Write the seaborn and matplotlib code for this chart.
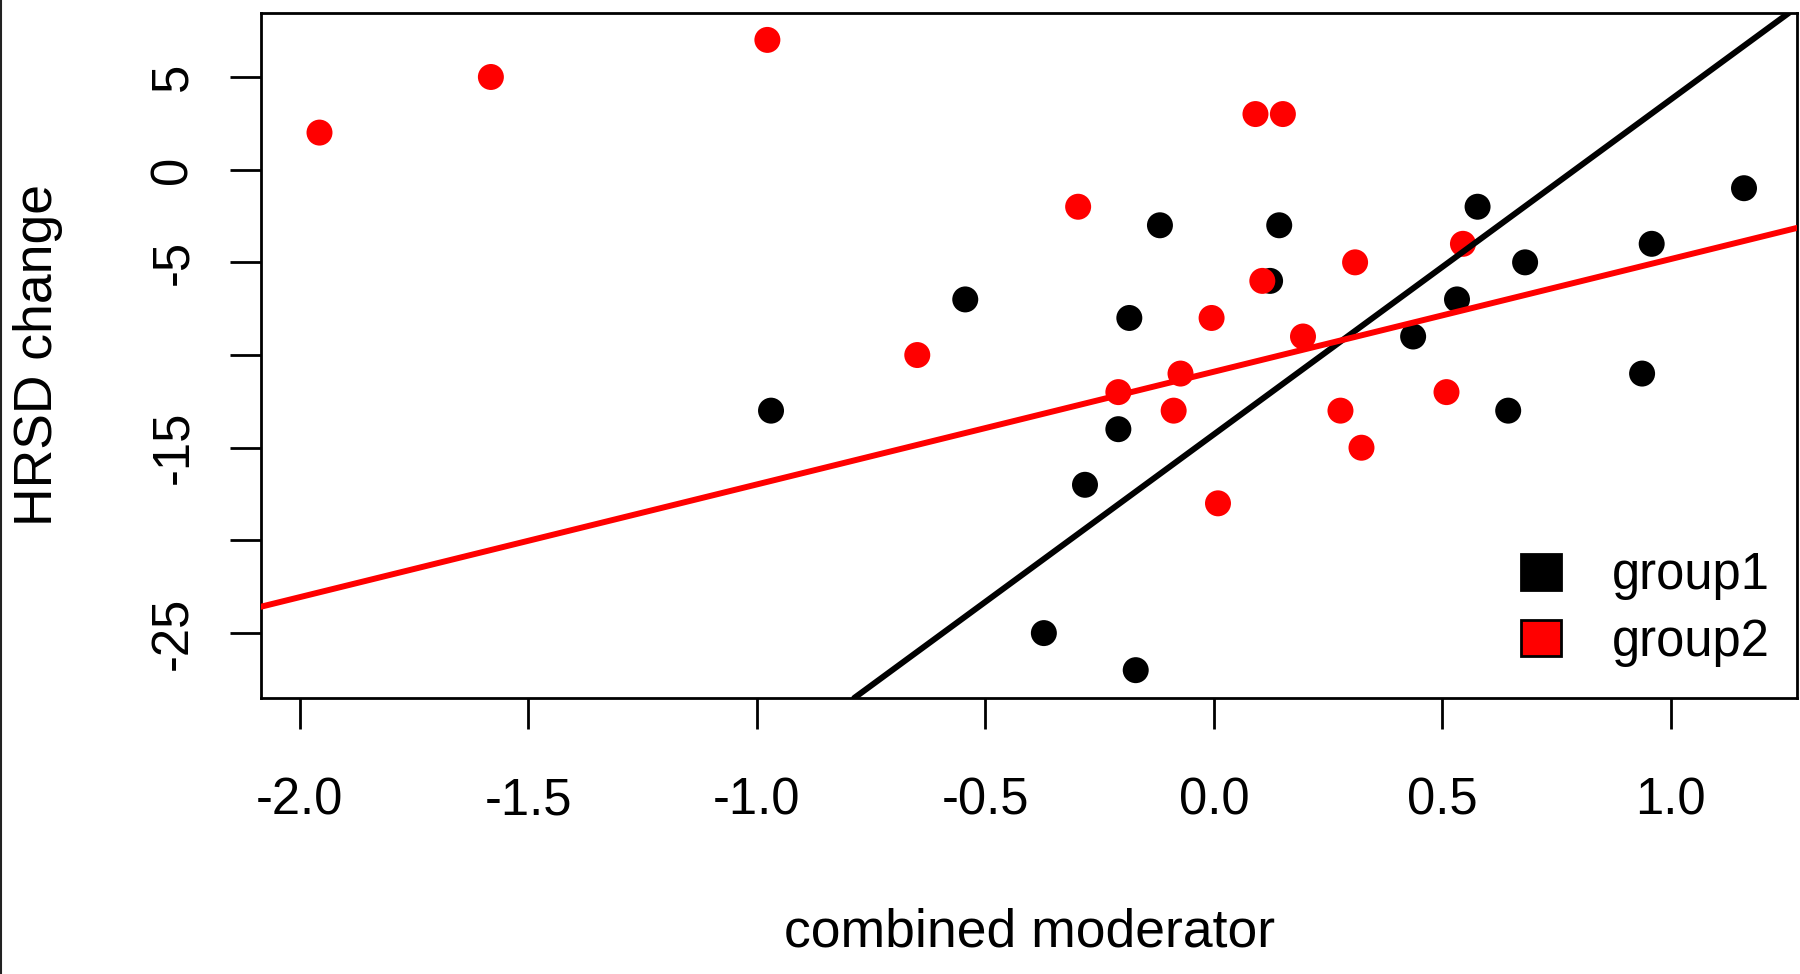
import numpy as np
import pandas as pd
import matplotlib
matplotlib.use('Agg')
import matplotlib.pyplot as plt
from matplotlib.patches import Patch
from matplotlib.lines import Line2D
import seaborn as sns

# group1 points (black)
g1_x = [-0.969, -0.544, -0.185, -0.118, 0.143, 0.123, -0.209, -0.282, -0.372, -0.171,
        0.577, 0.681, 0.532, 0.436, 0.644, 0.937, 0.958, 1.160]
g1_y = [-13, -7, -8, -3, -3, -6, -14, -17, -25, -27, -2, -5, -7, -9, -13, -11, -4, -1]

# group2 points (red)
g2_x = [-1.957, -1.582, -0.977, 0.091, 0.151, -0.297, -0.649, -0.005, 0.106, 0.195,
        0.309, 0.545, -0.209, -0.073, -0.088, 0.277, 0.509, 0.323, 0.009]
g2_y = [2, 5, 7, 3, 3, -2, -10, -8, -6, -9, -5, -4, -12, -11, -13, -13, -12, -15, -18]

groups = ['group1', 'group2']
colors = ['black', 'red']
# fitted lines per group (intercept, slope)
line_intercepts = [-14.28, -10.9]
line_slopes = [18.07, 6.08]

x_ticks = [-2.0, -1.5, -1.0, -0.5, 0.0, 0.5, 1.0]
x_ticklabels = ['-2.0', '-1.5', '-1.0', '-0.5', '0.0', '0.5', '1.0']
y_ticks = [-25, -20, -15, -10, -5, 0, 5]
y_ticklabels = ['-25', '', '-15', '', '-5', '0', '5']

df = pd.DataFrame({
    'x': g1_x + g2_x,
    'y': g1_y + g2_y,
    'group': [groups[0]] * len(g1_x) + [groups[1]] * len(g2_x),
})

sns.set_style('ticks')
plt.rcParams['font.family'] = ['Liberation Sans', 'DejaVu Sans']
plt.rcParams['axes.unicode_minus'] = False
plt.rcParams['text.color'] = 'black'
plt.rcParams['axes.labelcolor'] = 'black'
plt.rcParams['xtick.color'] = 'black'
plt.rcParams['ytick.color'] = 'black'

fig = plt.figure(figsize=(18, 9.74), dpi=100)
ax = fig.add_axes([0.145, 0.2834, 0.8536, 0.7036])

sns.scatterplot(data=df, x='x', y='y', hue='group', hue_order=groups,
                palette=dict(zip(groups, colors)), s=350, linewidth=0,
                legend=False, ax=ax, zorder=2)

for b, m, c in zip(line_intercepts, line_slopes, colors):
    ax.axline((0, b), slope=m, color=c, lw=4.3, zorder=3)

ax.set_xlim(-2.085, 1.277)
ax.set_ylim(-28.5, 8.47)
ax.set_xticks(x_ticks)
ax.set_xticklabels(x_ticklabels)
ax.set_yticks(y_ticks)
ax.set_yticklabels(y_ticklabels, rotation=90, va='center')

for sp in ax.spines.values():
    sp.set_linewidth(2)
    sp.set_color('black')
ax.tick_params(axis='both', direction='out', length=22.5, width=2, color='black',
               labelsize=36.5, labelcolor='black')
ax.tick_params(axis='x', pad=34)
ax.tick_params(axis='y', pad=23)

ax.set_xlabel('combined moderator', fontsize=38.5, color='black')
ax.set_ylabel('HRSD change', fontsize=38.5, color='black')
ax.xaxis.label.set_va('center')
ax.yaxis.label.set_va('center')
ax.xaxis.set_label_coords(0.5, -0.3415)
ax.yaxis.set_label_coords(-0.1451, 0.5)

handles = [Patch(facecolor=c, edgecolor='black', linewidth=2) for c in colors]
leg = ax.legend(handles, groups, loc='lower right', bbox_to_anchor=(0.982, 0.045),
                frameon=False, fontsize=36.5, borderpad=0, borderaxespad=0,
                handlelength=0.79, handleheight=0.71, handletextpad=1.0,
                labelspacing=0.35)
for t in leg.get_texts():
    t.set_color('black')

# thin border line at the left edge of the image
fig.add_artist(Line2D([0.0008, 0.0008], [0, 1], transform=fig.transFigure,
                      color='#222222', lw=1.5))

fig.savefig('out.png', dpi=100)
